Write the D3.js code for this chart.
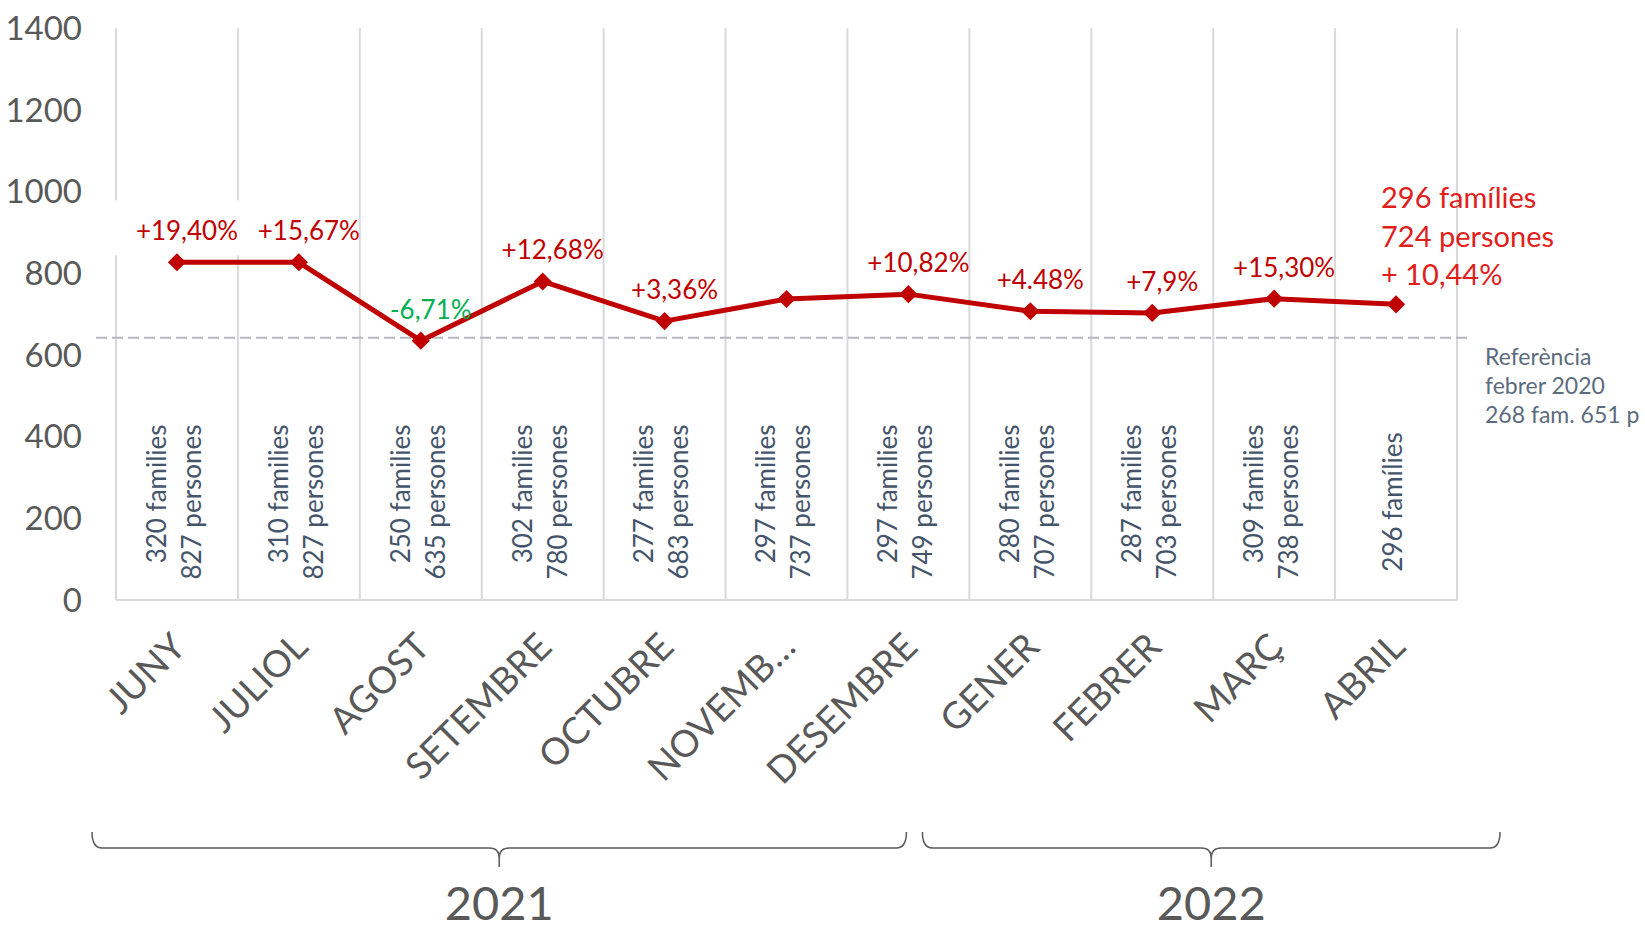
<!DOCTYPE html>
<html>
<head>
<meta charset="utf-8">
<script src="https://cdn.jsdelivr.net/npm/d3@7"></script>
<style>
    body { margin: 0; background: #fff; }
    svg text { font-family: Lato, "Open Sans", sans-serif; }
</style>
</head>
<body>
<div id="container"></div>
<script>
    // Data
    const months = ["JUNY", "JULIOL", "AGOST", "SETEMBRE", "OCTUBRE", "NOVEMB…", "DESEMBRE", "GENER", "FEBRER", "MARÇ", "ABRIL"];
    const persons = [827, 827, 635, 780, 683, 737, 749, 707, 703, 738, 724];
    const families = [320, 310, 250, 302, 277, 297, 297, 280, 287, 309, 296];
    const changes = ["+19,40%", "+15,67%", "-6,71%", "+12,68%", "+3,36%", null, "+10,82%", "+4.48%", "+7,9%", "+15,30%", null];
    const yTicks = [0, 200, 400, 600, 800, 1000, 1200, 1400];
    const years = [
        { label: "2021", from: "JUNY", to: "DESEMBRE" },
        { label: "2022", from: "GENER", to: "ABRIL" }
    ];
    const referenceValue = 642;   // dashed line, as drawn
    const referenceText = ["Referència", "febrer 2020", "268 fam. 651 p"];
    const lastNote = ["296 famílies", "724 persones", "+ 10,44%"];

    const width = 1645, height = 932;
    const red = "#c00000", green = "#00b050", grey = "#595959", slate = "#44546a";

    const svg = d3.select("#container").append("svg")
        .attr("width", width)
        .attr("height", height);

    const x = d3.scaleBand().domain(months).range([116, 1457]);
    const y = d3.scaleLinear().domain([0, 1400]).range([600, 28.3]);
    const bw = x.bandwidth();
    const cx = m => x(m) + bw / 2;

    // vertical gridlines (band edges)
    const edges = months.map(m => x(m)).concat([x.range()[1]]);
    svg.append("g").selectAll("line")
        .data(edges)
        .join("line")
        .attr("x1", d => d).attr("x2", d => d)
        .attr("y1", y(1400)).attr("y2", y(0))
        .attr("stroke", "#d9d9d9")
        .attr("stroke-width", 2);

    // white box behind the first labels (hides gridlines there)
    svg.append("rect")
        .attr("x", x("JUNY") - 10)
        .attr("width", x("JULIOL") - x("JUNY") + 22)
        .attr("y", y(persons[0]) - 62)
        .attr("height", 55)
        .attr("fill", "#fff");

    // baseline
    svg.append("line")
        .attr("x1", x.range()[0]).attr("x2", x.range()[1])
        .attr("y1", y(0)).attr("y2", y(0))
        .attr("stroke", "#d9d9d9")
        .attr("stroke-width", 2);

    // y labels
    svg.append("g").selectAll("text")
        .data(yTicks)
        .join("text")
        .attr("x", 82)
        .attr("y", d => y(d))
        .attr("dy", "0.35em")
        .attr("text-anchor", "end")
        .attr("font-size", 33)
        .attr("fill", grey)
        .text(d => d);

    // reference dashed line
    svg.append("line")
        .attr("x1", x.range()[0] - 20).attr("x2", x.range()[1] + 10)
        .attr("y1", y(referenceValue)).attr("y2", y(referenceValue))
        .attr("stroke", "#b4b8c0")
        .attr("stroke-width", 2)
        .attr("stroke-dasharray", "11,5");

    svg.append("g").selectAll("text")
        .data(referenceText)
        .join("text")
        .attr("x", x.range()[1] + 28)
        .attr("y", (d, i) => y(referenceValue) + 27 + i * 29)
        .attr("font-size", 23)
        .attr("fill", "#5d6b7e")
        .text(d => d);

    // inner rotated labels
    const inner = months.map((m, i) => {
        const lines = [families[i] + (i === months.length - 1 ? " famílies" : " families")];
        if (i < months.length - 1) lines.push(persons[i] + " persones");
        return { m, lines };
    });
    const innerG = svg.append("g");
    inner.forEach(d => {
        const n = d.lines.length;
        const texts = d.lines.map((t, j) => innerG.append("text")
            .attr("font-size", 26)
            .attr("fill", slate)
            .attr("text-anchor", "end")
            .text(t));
        const maxLen = d3.max(texts, t => t.node().getComputedTextLength());
        const top = 502 - maxLen / 2;
        texts.forEach((t, j) => {
            const bx = cx(d.m) - 3 + (j - (n - 1) / 2) * 35 + 9.4;
            t.attr("transform", `translate(${bx},${top}) rotate(-90)`);
        });
    });

    // line + markers
    const line = d3.line()
        .x((d, i) => cx(months[i]))
        .y(d => y(d));
    svg.append("path")
        .datum(persons)
        .attr("d", line)
        .attr("fill", "none")
        .attr("stroke", red)
        .attr("stroke-width", 5)
        .attr("stroke-linejoin", "round");

    svg.append("g").selectAll("path")
        .data(persons)
        .join("path")
        .attr("d", d3.symbol(d3.symbolDiamond2, 210))
        .attr("transform", (d, i) => `translate(${cx(months[i])},${y(d)})`)
        .attr("fill", red);

    // change labels
    svg.append("g").selectAll("text")
        .data(changes.map((c, i) => ({ c, i })).filter(d => d.c))
        .join("text")
        .attr("x", d => cx(months[d.i]) + 10)
        .attr("y", d => y(persons[d.i]) - 22)
        .attr("text-anchor", "middle")
        .attr("font-size", 26)
        .attr("fill", d => d.c.startsWith("-") ? green : red)
        .text(d => d.c);

    // note for the last month
    const last = months.length - 1;
    svg.append("g").selectAll("text")
        .data(lastNote)
        .join("text")
        .attr("x", cx(months[last]) - 15)
        .attr("y", (d, i) => y(persons[last]) - 96 + i * 38.5)
        .attr("font-size", 29)
        .attr("fill", "#e0201b")
        .text(d => d);

    // x labels
    svg.append("g").selectAll("text")
        .data(months)
        .join("text")
        .attr("transform", d => `translate(${cx(d) + 2},640) rotate(-45)`)
        .attr("dy", "0.35em")
        .attr("text-anchor", "end")
        .attr("font-size", 37)
        .attr("fill", grey)
        .text(d => d);

    // year braces
    const braceTop = 832, braceMid = 848, braceTip = 867;
    const bracePos = [
        [x(years[0].from) - 24, cx(years[0].to) - 2],
        [cx(years[0].to) + 14, x(years[1].to) + bw + 43]
    ];
    years.forEach((yr, k) => {
        const [x0, x1] = bracePos[k];
        const t = (x0 + x1) / 2;
        const p = d3.path();
        p.moveTo(x0, braceTop);
        p.quadraticCurveTo(x0, braceMid, x0 + 10, braceMid);
        p.lineTo(t - 10, braceMid);
        p.quadraticCurveTo(t, braceMid, t, braceMid + 10);
        p.lineTo(t, braceTip);
        p.moveTo(t, braceMid + 10);
        p.quadraticCurveTo(t, braceMid, t + 10, braceMid);
        p.lineTo(x1 - 10, braceMid);
        p.quadraticCurveTo(x1, braceMid, x1, braceTop);
        svg.append("path")
            .attr("d", p.toString())
            .attr("fill", "none")
            .attr("stroke", grey)
            .attr("stroke-width", 1.5);
        svg.append("text")
            .attr("x", t)
            .attr("y", 920)
            .attr("text-anchor", "middle")
            .attr("font-size", 47)
            .attr("fill", grey)
            .text(yr.label);
    });
</script>
</body>
</html>
